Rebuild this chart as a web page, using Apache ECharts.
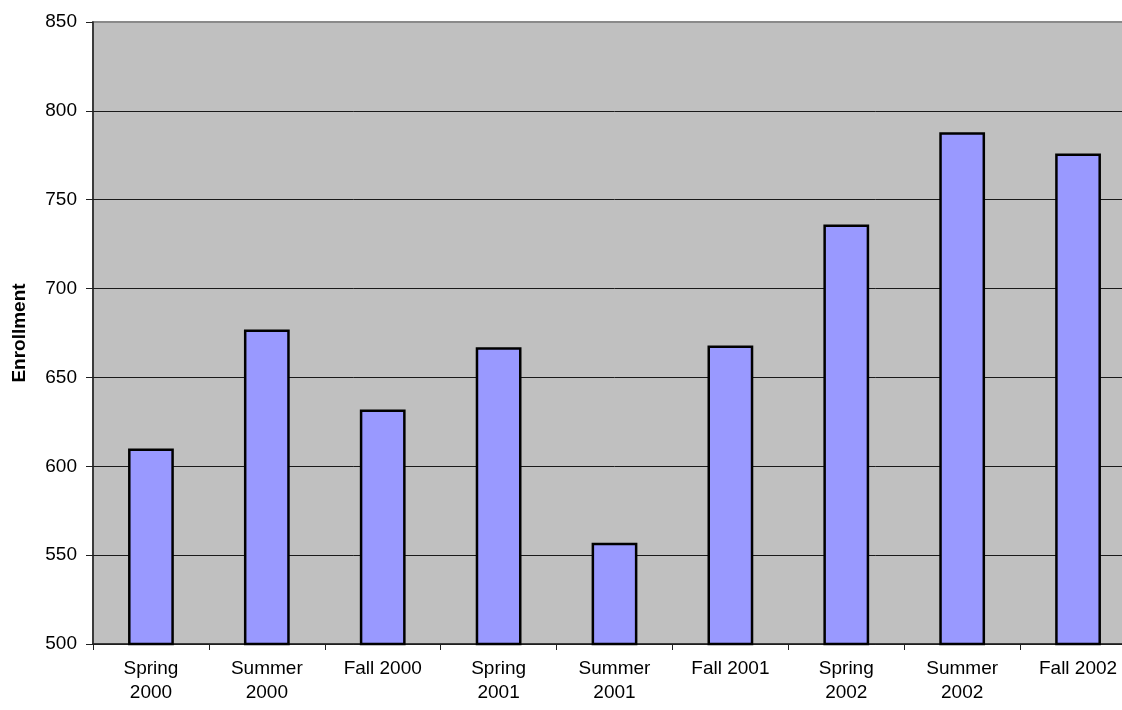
<!DOCTYPE html>
<html>
<head>
<meta charset="utf-8">
<title>Enrollment</title>
<script src="https://cdn.jsdelivr.net/npm/echarts@6/dist/echarts.min.js"></script>
<style>
  html, body { margin: 0; padding: 0; background: #ffffff; overflow: hidden; width: 1122px; height: 710px; }
  /* the plot runs a little past the right edge of the page */
  #chart { width: 1136px; height: 710px; }
</style>
</head>
<body>
<div id="chart"></div>
<script>
// Enrollment per term
const terms = ['Spring\n2000', 'Summer\n2000', 'Fall 2000', 'Spring\n2001', 'Summer\n2001',
               'Fall 2001', 'Spring\n2002', 'Summer\n2002', 'Fall 2002'];
const enrollment = [610, 677, 632, 667, 557, 668, 736, 788, 776];

const yMin = 500;
const yMax = 850;
const yStep = 50;

const FONT = "'Liberation Sans', Arial, sans-serif";

// grid lines: dark inside the plot, the top one blends with the gray border
const splitColors = [];
for (let v = yMin; v <= yMax; v += yStep) {
  splitColors.push(v === yMax ? '#8a8a8a' : '#1a1a1a');
}

const chart = echarts.init(document.getElementById('chart'), null, { renderer: 'canvas' });

chart.setOption({
  backgroundColor: '#ffffff',
  animation: false,
  grid: {
    left: 93,
    top: 22,
    bottom: 66,
    right: 0,
    show: true,
    backgroundColor: '#c0c0c0',
    borderColor: '#8a8a8a',
    borderWidth: 2
  },
  xAxis: {
    type: 'category',
    data: terms,
    axisLine: { show: true, lineStyle: { color: '#202020', width: 1.5 } },
    axisTick: { show: true, length: 6, lineStyle: { color: '#202020', width: 1 } },
    axisLabel: {
      color: '#000',
      fontFamily: FONT,
      fontSize: 19,
      lineHeight: 24,
      margin: 13,
      interval: 0
    },
    splitLine: { show: false }
  },
  yAxis: {
    type: 'value',
    min: yMin,
    max: yMax,
    interval: yStep,
    name: 'Enrollment',
    nameLocation: 'middle',
    nameGap: 64,
    nameRotate: 90,
    nameTextStyle: {
      color: '#000',
      fontFamily: FONT,
      fontSize: 19,
      fontWeight: 'bold'
    },
    axisLine: { show: true, lineStyle: { color: '#202020', width: 1.5 } },
    axisTick: { show: true, length: 7, lineStyle: { color: '#202020', width: 1 } },
    axisLabel: {
      color: '#000',
      fontFamily: FONT,
      fontSize: 19,
      margin: 16
    },
    splitLine: { show: true, lineStyle: { color: splitColors, width: 1 } }
  },
  series: [{
    type: 'bar',
    data: enrollment,
    barWidth: '39.5%',
    itemStyle: {
      color: '#9999ff',
      borderColor: '#000000',
      borderWidth: 2.5
    }
  }]
});
</script>
</body>
</html>
